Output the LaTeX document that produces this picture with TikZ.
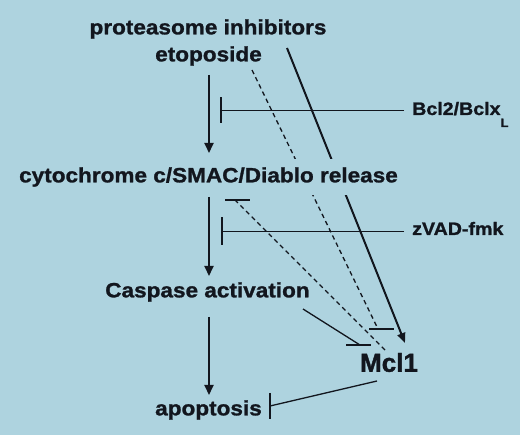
\documentclass[tikz,border=0pt]{standalone}
\usepackage{fontspec}
\setmainfont{Liberation Sans}[FakeStretch=1.09, FakeBold=1.2]
\newfontfamily\mclfont{Liberation Sans}[FakeBold=1.4]
\usetikzlibrary{arrows.meta, calc}

\definecolor{panelblue}{RGB}{174,211,223}
\definecolor{inkdark}{RGB}{18,22,30}

\pgfdeclarelayer{bg}
\pgfdeclarelayer{edges}
\pgfsetlayers{bg,edges,main}

\tikzset{
  mainlbl/.style={font=\bfseries\fontsize{20.7}{22}\selectfont, text=inkdark, inner xsep=2pt, inner ysep=8pt},
  sidelbl/.style={font=\bfseries\fontsize{18}{19}\selectfont, text=inkdark, anchor=base west, inner sep=2pt},
  masked/.style={fill=panelblue},
  act/.style={draw=inkdark, line width=2pt, -{Triangle[length=10pt,width=9pt]}},
  inh/.style={draw=inkdark, line width=1.3pt},
  inhdash/.style={inh, dash pattern=on 4.5pt off 3.5pt},
}

\begin{document}
\begin{tikzpicture}[x=1pt, y=-1pt]
    \useasboundingbox (0,0) rectangle (520,435);
    \begin{pgfonlayer}{bg}
        \fill[panelblue] (0,0) rectangle (520,435);
    \end{pgfonlayer}

    % Noeuds
    \node[mainlbl] (pi) at (208,29) {proteasome inhibitors};
    \node[mainlbl] (eto) at (208.5,56) {etoposide};
    \node[mainlbl, masked] (cyto) at (208.5,177) {cytochrome c/SMAC/Diablo release};
    \node[mainlbl] (casp) at (207.5,292) {Caspase activation};
    \node[mainlbl] (apo) at (208.5,410) {apoptosis};
    \node[mainlbl, font=\mclfont\bfseries\fontsize{26}{28}\selectfont] (mcl) at (389,362.5) {Mcl1};
    \node[sidelbl] (bcl) at (410,115) {Bcl2/Bclx\raisebox{-12pt}{\fontsize{12}{12}\selectfont L}};
    \node[sidelbl] (zvad) at (410,235) {zVAD-fmk};

    \begin{pgfonlayer}{edges}
        % Voie principale
        \draw[act] ($(eto)+(0.5,19)$) -- ($(cyto)+(0.5,-24)$);
        \draw[act] ($(cyto)+(0.5,20)$) -- ($(casp)+(1.5,-16)$);
        \draw[act] ($(casp)+(1.5,25)$) -- ($(apo)+(0.5,-15)$);

        % Inhibiteurs lateraux
        \coordinate (bclhit) at ($(eto |- bcl.base west)+(12.5,-4.5)$);
        \draw[inh] ($(bcl.base west)+(-6,-4.5)$) -- (bclhit);
        \draw[inh] ($(bclhit)+(0,-13)$) -- ($(bclhit)+(0,13)$);
        \coordinate (zvadhit) at ($(cyto |- zvad.base west)+(13.5,-3.5)$);
        \draw[inh] ($(zvad.base west)+(-6,-3.5)$) -- (zvadhit);
        \draw[inh] ($(zvadhit)+(0,-14)$) -- ($(zvadhit)+(0,14)$);

        % Mcl1
        \draw[act, -{Triangle[length=10pt,width=8pt]}] ($(pi)+(79,19)$) -- ($(mcl)+(16,-19.5)$);
        \coordinate (etohit) at ($(mcl)+(-11,-33.5)$);
        \draw[inhdash] ($(eto)+(43.5,14)$) -- (etohit);
        \draw[inh] ($(etohit)+(-9,0)$) -- ($(etohit)+(16,0)$);
        \coordinate (cytohit) at ($(cyto)+(26.5,23)$);
        \draw[inhdash] ($(mcl)+(-4,-12.5)$) -- (cytohit);
        \draw[inh] ($(cytohit)+(-10,0)$) -- ($(cytohit)+(15,0)$);
        \coordinate (casphit) at ($(mcl)+(-29,-17.5)$);
        \draw[inh] ($(casp)+(95.5,17)$) -- (casphit);
        \draw[inh] ($(casphit)+(-14,0)$) -- ($(casphit)+(11,0)$);
        \coordinate (apohit) at ($(apo)+(61.5,-4)$);
        \draw[inh] ($(mcl)+(-12,18.5)$) -- (apohit);
        \draw[inh] ($(apohit)+(0,-13)$) -- ($(apohit)+(0,13)$);
    \end{pgfonlayer}
\end{tikzpicture}
\end{document}
